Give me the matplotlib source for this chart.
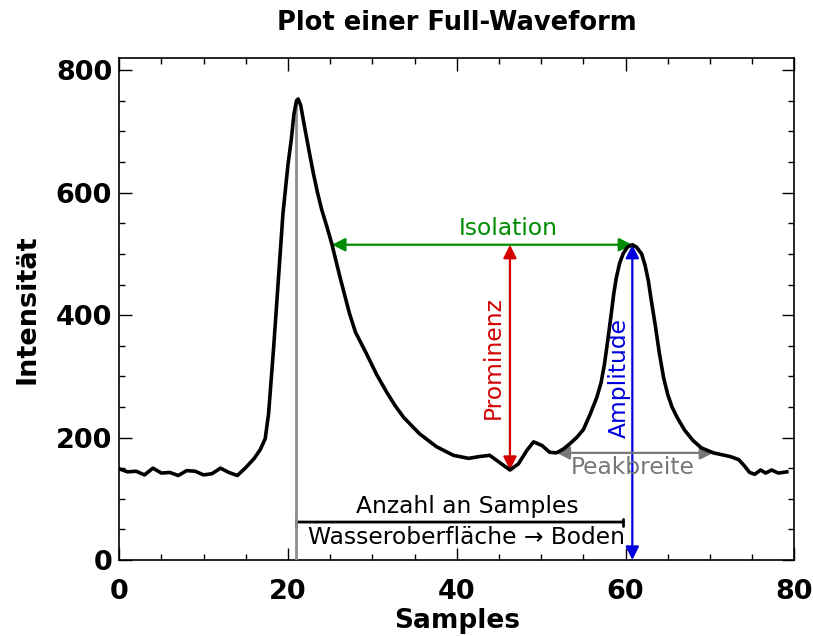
"""
Full-Waveform mit den Kenngrößen eines Peaks (Isolation, Prominenz, Amplitude, Peakbreite).
"""
import matplotlib
matplotlib.use("Agg")
import matplotlib.pyplot as plt
from matplotlib.ticker import MultipleLocator

# Abgetastete Waveform (Sample-Index, Intensität)
samples = [
    0, 1, 2, 3, 4, 5, 6, 7, 8, 9, 10, 11, 12, 13, 14, 15, 16, 16.7, 17.3, 17.7,
    18.3, 18.85, 19.4, 20.0, 20.4, 20.7, 21.0, 21.2, 21.5, 22.0, 22.5, 23.0,
    23.5, 24.0, 24.6, 25.2, 26.2, 27.3, 28.0, 29.3, 30.5, 31.7, 32.7, 33.7,
    35.6, 37.6, 39.6, 41.4, 42.7, 43.9, 45.1, 46.3, 47.3, 48.3, 49.1, 50.1,
    51.0, 51.8, 52.6, 53.4, 54.2, 55.0, 55.8, 56.6, 57.1, 57.5, 57.9, 58.3,
    58.6, 58.9, 59.3, 59.7, 60.2, 60.8, 61.3, 61.9, 62.3, 62.7, 63.0, 63.5,
    64.0, 64.5, 65.0, 65.5, 66.1, 67.0, 68.0, 69.0, 70.4, 72.4, 73.4, 74.0,
    74.7, 75.3, 76.0, 76.6, 77.3, 78.1, 79.1,
]
intensity = [
    149, 144, 145, 139, 150, 142, 143, 138, 146, 145, 139, 141, 150, 143, 138,
    151, 166, 180, 198, 239, 347, 456, 565, 646, 688, 728, 750, 753, 743, 705,
    668, 632, 600, 572, 545, 516, 460, 402, 372, 337, 303, 274, 252, 233,
    206, 185, 171, 166, 169, 171, 159, 147, 157, 179, 193, 187,
    176, 175, 181, 190, 200, 213, 238, 266, 290, 320, 360, 402,
    435, 461, 485, 500, 511, 515, 511, 500, 482, 456, 428, 385,
    338, 298, 270, 250, 233, 212, 195, 183, 175, 169, 164, 155,
    143, 140, 147, 142, 147, 142, 144,
]

# Kenngrößen
peak1_x, peak1_y = 21.0, 752
peak2_x, peak2_y = 60.8, 515
iso_left_x = 25.2
prom_x, prom_min = 46.3, 147
width_y, width_left, width_right = 175, 51.8, 70.4
count_y, count_right = 62, 59.7

GREEN = "#008c00"
RED = "#d40000"
BLUE = "#0000dd"
GRAY = "#777777"

fig = plt.figure(figsize=(8.13, 6.36), dpi=100)
ax = fig.add_axes([0.1466, 0.1195, 0.8305, 0.7893])

ax.plot(samples, intensity, color="black", lw=2.6, solid_joinstyle="round", zorder=5)

# Lage des ersten Peaks (Wasseroberfläche)
ax.plot([peak1_x, peak1_x], [0, peak1_y], color="#8c8c8c", lw=2, zorder=4)

arrow_kw = dict(lw=1.6, shrinkA=0, shrinkB=0, mutation_scale=20)

# Isolation
ax.annotate("", xy=(iso_left_x, peak2_y), xytext=(peak2_x, peak2_y),
            arrowprops=dict(arrowstyle="<|-|>", color=GREEN, **arrow_kw))
ax.text(46.1, 542, "Isolation", color=GREEN, fontsize=16.8, ha="center", va="center")

# Prominenz
ax.annotate("", xy=(prom_x, prom_min), xytext=(prom_x, peak2_y),
            arrowprops=dict(arrowstyle="<|-|>", color=RED, **arrow_kw))
ax.text(44.3, 330, "Prominenz", color=RED, fontsize=16.8, rotation=90,
        ha="center", va="center")

# Amplitude
ax.annotate("", xy=(peak2_x, 0), xytext=(peak2_x, peak2_y),
            arrowprops=dict(arrowstyle="<|-|>", color=BLUE, **arrow_kw))
ax.text(59.2, 297, "Amplitude", color=BLUE, fontsize=16.8, rotation=90,
        ha="center", va="center")

# Peakbreite
ax.annotate("", xy=(width_left, width_y), xytext=(width_right, width_y),
            arrowprops=dict(arrowstyle="<|-|>", color=GRAY, **arrow_kw))
ax.text(60.9, 151, "Peakbreite", color=GRAY, fontsize=16.8, ha="center", va="center")

# Anzahl an Samples zwischen Oberfläche und Boden
ax.annotate("", xy=(peak1_x, count_y), xytext=(count_right, count_y),
            arrowprops=dict(arrowstyle="|-|, widthA=0.25, widthB=0.25",
                            color="black", lw=2, shrinkA=0, shrinkB=0))
ax.text(41.2, 88, "Anzahl an Samples", fontsize=16.8, ha="center", va="center")
ax.text(41.2, 37, "Wasseroberfläche → Boden", fontsize=16.8, ha="center", va="center")

ax.set_xlim(0, 80)
ax.set_ylim(0, 820)
ax.xaxis.set_major_locator(MultipleLocator(20))
ax.xaxis.set_minor_locator(MultipleLocator(5))
ax.yaxis.set_major_locator(MultipleLocator(200))
ax.yaxis.set_minor_locator(MultipleLocator(50))
ax.tick_params(which="both", direction="in", top=True, right=True, width=1)
ax.tick_params(which="major", length=9, labelsize=19.5)
ax.tick_params(which="minor", length=4)
ax.tick_params(axis="x", which="major", pad=14)
ax.tick_params(axis="y", which="major", pad=5)
for lab in ax.get_xticklabels() + ax.get_yticklabels():
    lab.set_fontweight("bold")
for sp in ax.spines.values():
    sp.set_linewidth(1.2)

ax.set_xlabel("Samples", fontsize=19, fontweight="bold", labelpad=2)
ax.set_ylabel("Intensität", fontsize=19.5, fontweight="bold", labelpad=11)
ax.set_title("Plot einer Full-Waveform", fontsize=18.5, fontweight="bold", pad=20)

fig.savefig("out.png", dpi=100)
